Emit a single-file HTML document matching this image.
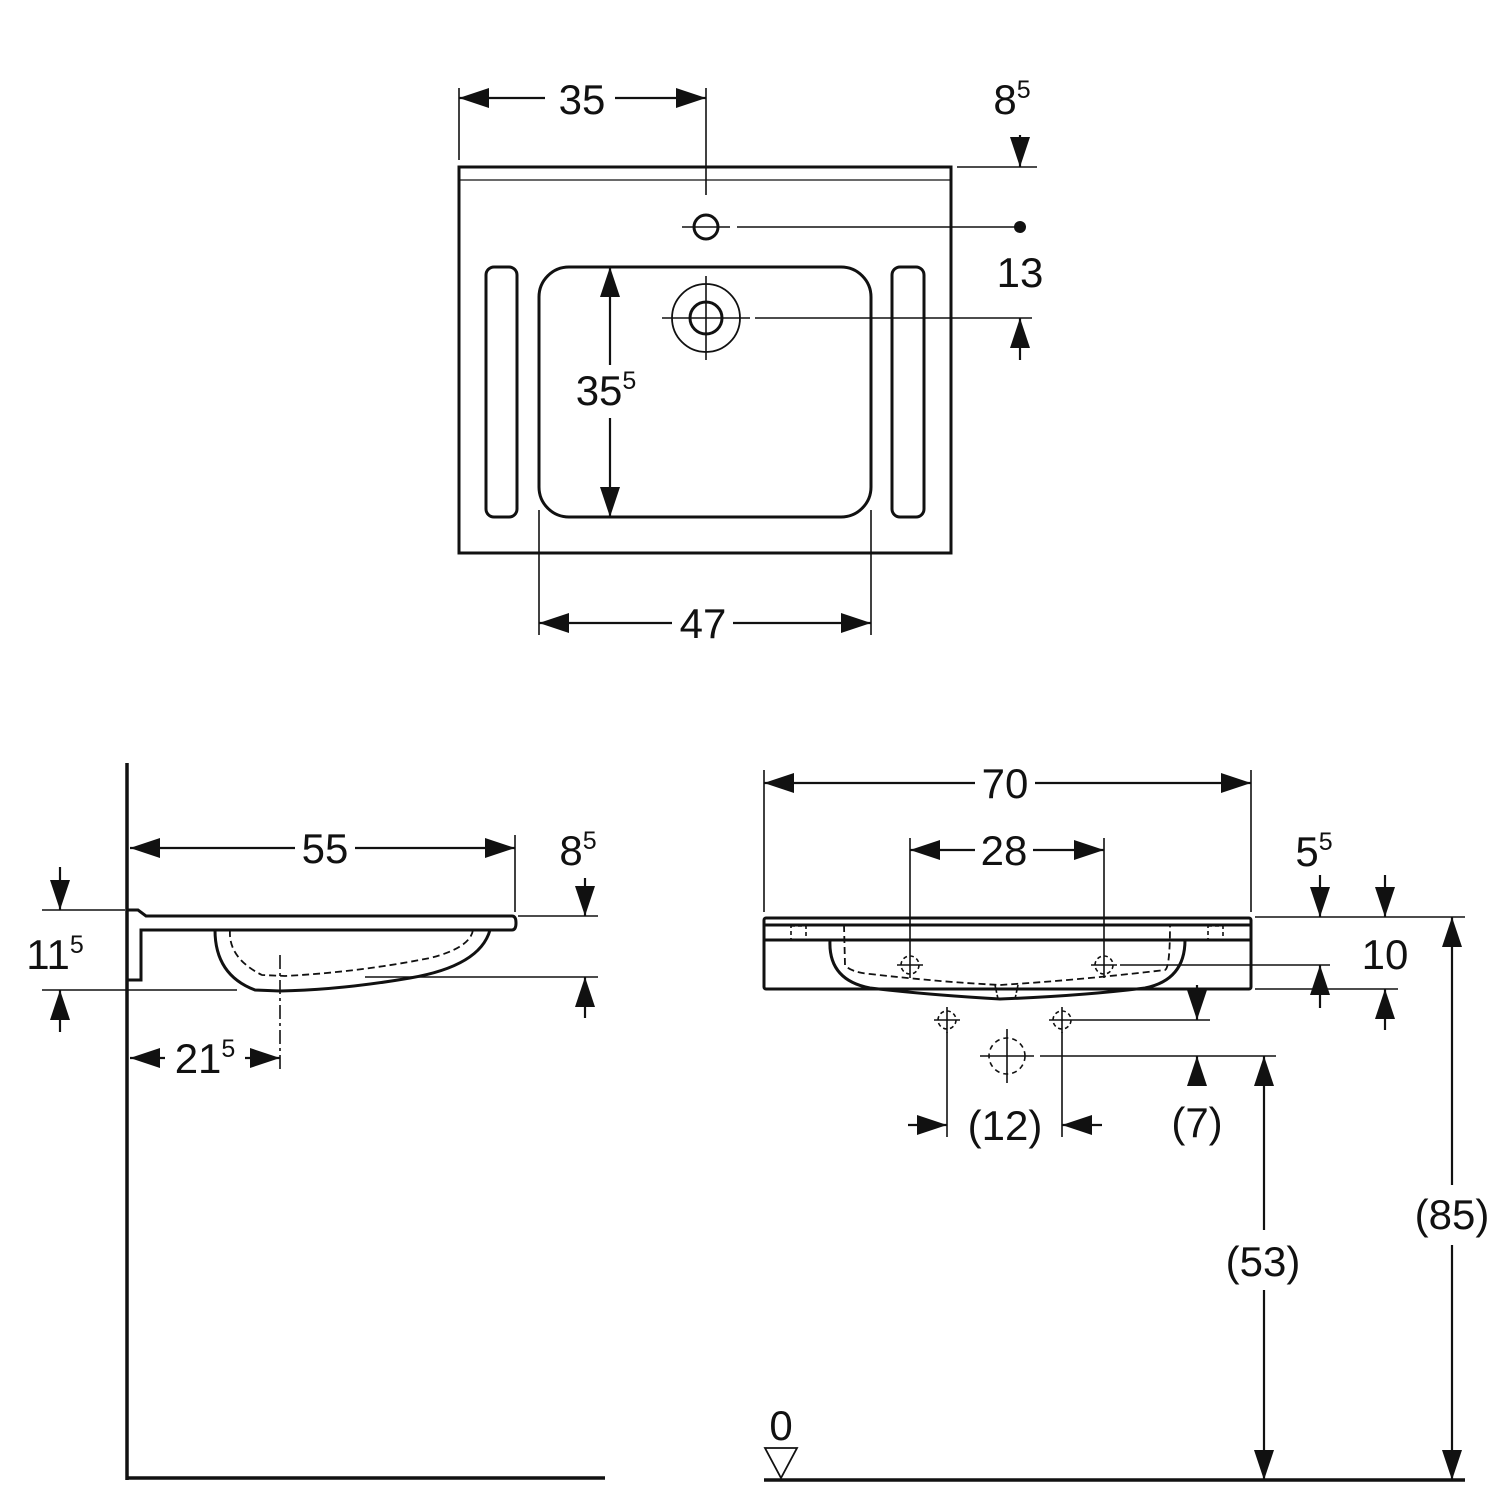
<!DOCTYPE html>
<html><head><meta charset="utf-8"><style>body{margin:0;background:#fff}svg{display:block}text{font-family:"Liberation Sans",sans-serif;font-size:42px;fill:#111}</style></head><body>
<svg width="1500" height="1500" viewBox="0 0 1500 1500" xmlns="http://www.w3.org/2000/svg">
<defs>
<marker id="a" viewBox="0 0 30 20" refX="30" refY="10" markerWidth="30" markerHeight="20" markerUnits="userSpaceOnUse" orient="auto-start-reverse"><path d="M0,0L30,10L0,20z" fill="#111"/></marker>
</defs>
<g stroke="#111" fill="none" stroke-width="3">
<!-- TOP VIEW -->
<rect x="459" y="167" width="492" height="386"/>
<line x1="459" y1="180" x2="951" y2="180" stroke-width="1.2"/>
<rect x="486" y="267" width="31" height="250" rx="8"/>
<rect x="892" y="267" width="32" height="250" rx="8"/>
<rect x="539" y="267" width="332" height="250" rx="30"/>
<circle cx="706" cy="227" r="12"/>
<circle cx="706" cy="318" r="34" stroke-width="1.8"/>
<circle cx="706" cy="318" r="16"/>
<circle cx="1020" cy="227" r="6" fill="#111" stroke="none"/>
<g stroke-width="1.6">
<line x1="662" y1="318" x2="750" y2="318"/><line x1="706" y1="276" x2="706" y2="360"/>
<line x1="682" y1="227" x2="730" y2="227"/>
<line x1="459" y1="88" x2="459" y2="160"/><line x1="706" y1="88" x2="706" y2="195"/>
<line x1="957" y1="167" x2="1037" y2="167"/>
<line x1="737" y1="227" x2="1020" y2="227"/>
<line x1="755" y1="318" x2="1032" y2="318"/>
<line x1="539" y1="510" x2="539" y2="635"/><line x1="871" y1="510" x2="871" y2="635"/>
</g>
<g stroke-width="2.2">
<line x1="545" y1="98" x2="459" y2="98" marker-end="url(#a)"/>
<line x1="615" y1="98" x2="706" y2="98" marker-end="url(#a)"/>
<line x1="1020" y1="135" x2="1020" y2="167" marker-end="url(#a)"/>
<line x1="1020" y1="360" x2="1020" y2="318" marker-end="url(#a)"/>
<line x1="610" y1="267" x2="610" y2="365" marker-start="url(#a)"/>
<line x1="610" y1="418" x2="610" y2="517" marker-end="url(#a)"/>
<line x1="672" y1="623" x2="539" y2="623" marker-end="url(#a)"/>
<line x1="733" y1="623" x2="871" y2="623" marker-end="url(#a)"/>
</g>
<!-- SIDE VIEW -->
<line x1="127" y1="763" x2="127" y2="1480" stroke-width="3.5"/>
<line x1="127" y1="1478" x2="605" y2="1478" stroke-width="3.5"/>
<path d="M127,910 L138,910 L146,916 L512,916 Q516,916 516,923 Q516,930 512,930 L141,930 L141,980 L127,980"/>
<path d="M215,930 Q215,975 255,990 L280,991 Q340,990 410,978 Q480,966 490,930"/>
<path d="M230,930 Q228,958 262,975 L285,976 Q360,972 430,958 Q470,948 473,930" stroke-dasharray="7,4" stroke-width="1.8"/>
<g stroke-width="1.6">
<line x1="280" y1="955" x2="280" y2="1072" stroke-dasharray="14,4,3,4"/>
<line x1="515" y1="835" x2="515" y2="912"/>
<line x1="518" y1="916" x2="598" y2="916"/>
<line x1="365" y1="977" x2="598" y2="977"/>
<line x1="42" y1="910" x2="125" y2="910"/>
<line x1="42" y1="990" x2="237" y2="990"/>
</g>
<g stroke-width="2.2">
<line x1="295" y1="848" x2="130" y2="848" marker-end="url(#a)"/>
<line x1="355" y1="848" x2="515" y2="848" marker-end="url(#a)"/>
<line x1="585" y1="878" x2="585" y2="916" marker-end="url(#a)"/>
<line x1="585" y1="1018" x2="585" y2="977" marker-end="url(#a)"/>
<line x1="60" y1="867" x2="60" y2="910" marker-end="url(#a)"/>
<line x1="60" y1="1032" x2="60" y2="990" marker-end="url(#a)"/>
<line x1="165" y1="1058" x2="130" y2="1058" marker-end="url(#a)"/>
<line x1="245" y1="1058" x2="280" y2="1058" marker-end="url(#a)"/>
</g>
<!-- FRONT VIEW -->
<rect x="764" y="918" width="487" height="71" rx="2"/>
<line x1="764" y1="925" x2="1251" y2="925"/>
<line x1="764" y1="940" x2="1251" y2="940"/>
<path d="M830,940 Q828,980 870,988 Q930,995 1000,999 Q1080,996 1145,988 Q1185,980 1185,940"/>
<path d="M844,925 L845,965 Q850,972 870,974 Q940,982 1000,985 Q1080,980 1165,970 Q1170,968 1170,925" stroke-dasharray="7,4" stroke-width="1.8"/>
<g stroke-width="1.6">
<rect x="791" y="926" width="15" height="14" stroke-dasharray="4,3"/>
<rect x="1208" y="926" width="15" height="14" stroke-dasharray="4,3"/>
<path d="M995,985 L998,999 M1018,985 L1015,999" stroke-dasharray="3,2"/>
<g id="ch"><circle cx="910" cy="965" r="9" stroke-dasharray="4,3"/><line x1="897" y1="965" x2="923" y2="965"/><line x1="910" y1="952" x2="910" y2="978"/></g>
<use href="#ch" x="194"/>
<use href="#ch" x="37" y="55"/><use href="#ch" x="152" y="55"/>
<circle cx="1007" cy="1056" r="18" stroke-dasharray="5,4"/>
<line x1="980" y1="1056" x2="1034" y2="1056"/><line x1="1007" y1="1029" x2="1007" y2="1083"/>
<line x1="764" y1="770" x2="764" y2="912"/><line x1="1251" y1="770" x2="1251" y2="912"/>
<line x1="910" y1="838" x2="910" y2="952"/><line x1="1104" y1="838" x2="1104" y2="952"/>
<line x1="1255" y1="917" x2="1465" y2="917"/>
<line x1="1120" y1="965" x2="1330" y2="965"/>
<line x1="1255" y1="989" x2="1398" y2="989"/>
<line x1="1075" y1="1020" x2="1210" y2="1020"/>
<line x1="1040" y1="1056" x2="1276" y2="1056"/>
<line x1="947" y1="1032" x2="947" y2="1137"/><line x1="1062" y1="1032" x2="1062" y2="1137"/>
</g>
<line x1="764" y1="1480" x2="1465" y2="1480" stroke-width="3.5"/>
<path d="M765,1448 L797,1448 L781,1478 Z" stroke-width="1.8"/>
<g stroke-width="2.2">
<line x1="975" y1="783" x2="764" y2="783" marker-end="url(#a)"/>
<line x1="1035" y1="783" x2="1251" y2="783" marker-end="url(#a)"/>
<line x1="975" y1="850" x2="910" y2="850" marker-end="url(#a)"/>
<line x1="1033" y1="850" x2="1104" y2="850" marker-end="url(#a)"/>
<line x1="1320" y1="875" x2="1320" y2="917" marker-end="url(#a)"/>
<line x1="1320" y1="1008" x2="1320" y2="965" marker-end="url(#a)"/>
<line x1="1385" y1="875" x2="1385" y2="917" marker-end="url(#a)"/>
<line x1="1385" y1="1030" x2="1385" y2="989" marker-end="url(#a)"/>
<line x1="1197" y1="985" x2="1197" y2="1020" marker-end="url(#a)"/>
<line x1="1197" y1="1085" x2="1197" y2="1056" marker-end="url(#a)"/>
<line x1="908" y1="1125" x2="947" y2="1125" marker-end="url(#a)"/>
<line x1="1102" y1="1125" x2="1062" y2="1125" marker-end="url(#a)"/>
<line x1="1264" y1="1056" x2="1264" y2="1230" marker-start="url(#a)"/>
<line x1="1264" y1="1290" x2="1264" y2="1480" marker-end="url(#a)"/>
<line x1="1452" y1="917" x2="1452" y2="1185" marker-start="url(#a)"/>
<line x1="1452" y1="1245" x2="1452" y2="1480" marker-end="url(#a)"/>
</g>
</g>
<g text-anchor="middle">
<text x="582" y="114">35</text>
<text x="1012" y="114">8<tspan font-size="25" dy="-16">5</tspan></text>
<text x="1020" y="287">13</text>
<text x="606" y="405">35<tspan font-size="25" dy="-16">5</tspan></text>
<text x="703" y="638">47</text>
<text x="325" y="863">55</text>
<text x="578" y="865">8<tspan font-size="25" dy="-16">5</tspan></text>
<text x="55" y="969">11<tspan font-size="25" dy="-16">5</tspan></text>
<text x="205" y="1073">21<tspan font-size="25" dy="-16">5</tspan></text>
<text x="1005" y="798">70</text>
<text x="1004" y="865">28</text>
<text x="1314" y="866">5<tspan font-size="25" dy="-16">5</tspan></text>
<text x="1385" y="969">10</text>
<text x="1005" y="1140">(12)</text>
<text x="1197" y="1137">(7)</text>
<text x="1263" y="1276">(53)</text>
<text x="1452" y="1229">(85)</text>
<text x="781" y="1440">0</text>
</g>
</svg>
</body></html>
